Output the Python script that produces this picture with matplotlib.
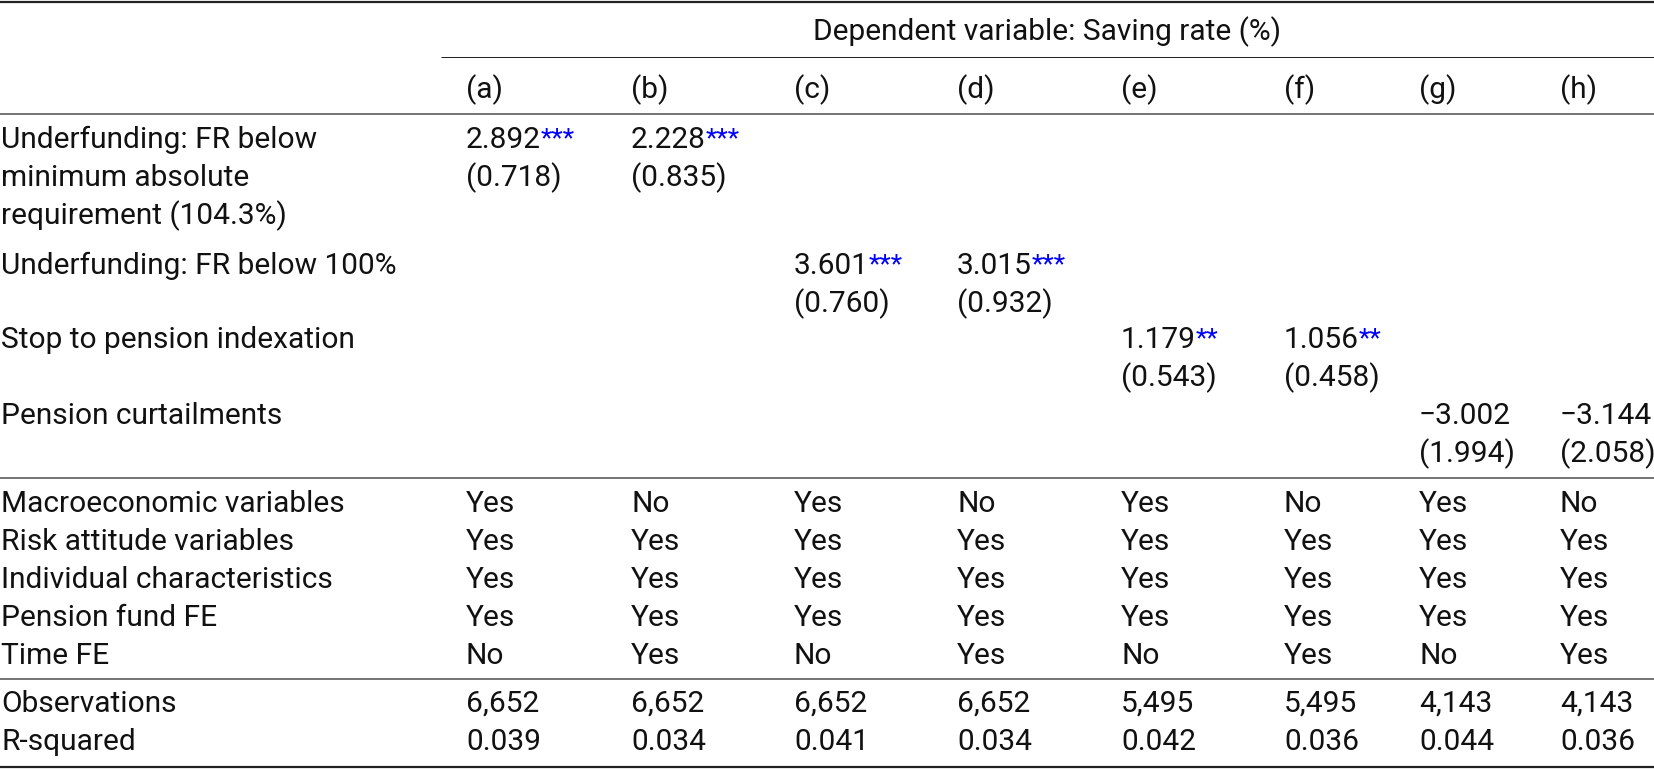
import matplotlib
matplotlib.use("Agg")
import matplotlib.pyplot as plt

plt.rcParams['font.family'] = ['Roboto', 'DejaVu Sans']

# table content
header = "Dependent variable: Saving rate (%)"
col_labels = ["(a)", "(b)", "(c)", "(d)", "(e)", "(f)", "(g)", "(h)"]

var_labels = [
    ["Underfunding: FR below", "minimum absolute", "requirement (104.3%)"],
    ["Underfunding: FR below 100%"],
    ["Stop to pension indexation"],
    ["Pension curtailments"],
]
var_cols = [[0, 1], [2, 3], [4, 5], [6, 7]]
coef_vals = [[2.892, 2.228], [3.601, 3.015], [1.179, 1.056], [-3.002, -3.144]]
se_vals = [[0.718, 0.835], [0.760, 0.932], [0.543, 0.458], [1.994, 2.058]]
stars = [["***", "***"], ["***", "***"], ["**", "**"], ["", ""]]

control_labels = ["Macroeconomic variables", "Risk attitude variables",
                  "Individual characteristics", "Pension fund FE", "Time FE"]
macro = ["Yes", "No", "Yes", "No", "Yes", "No", "Yes", "No"]
risk = ["Yes", "Yes", "Yes", "Yes", "Yes", "Yes", "Yes", "Yes"]
indiv = ["Yes", "Yes", "Yes", "Yes", "Yes", "Yes", "Yes", "Yes"]
fund_fe = ["Yes", "Yes", "Yes", "Yes", "Yes", "Yes", "Yes", "Yes"]
time_fe = ["No", "Yes", "No", "Yes", "No", "Yes", "No", "Yes"]
controls = [macro, risk, indiv, fund_fe, time_fe]

observations = [6652, 6652, 6652, 6652, 5495, 5495, 4143, 4143]
r_squared = [0.039, 0.034, 0.041, 0.034, 0.042, 0.036, 0.044, 0.036]

# layout (pixels)
W, H = 1654, 769
col_x = [466, 631, 794, 957, 1121, 1284, 1419, 1560]
pitch = 38
var_y = [138, 264, 338, 414]
ctrl_y0 = 502
stat_y0 = 702
base = 10  # baseline offset below row centre

txt = '#111111'
fs = 21.5
star_fs = 19

fig = plt.figure(figsize=(W / 100, H / 100), dpi=100)
ax = fig.add_axes([0, 0, 1, 1])
ax.set_xlim(0, W)
ax.set_ylim(H, 0)
ax.axis('off')


def fmt(v):
    return f"{v:.3f}".replace("-", "\u2212")


def put(x, y, s):
    return ax.text(x, y + base, s, ha='left', va='baseline', fontsize=fs,
                   color=txt)


# rules
ax.hlines(2, 0, W, color='#222222', lw=2.2 * 0.72)
ax.hlines(57, 441, W, color='#222222', lw=1.0 * 0.72)
ax.hlines(114, 0, W, color='#777777', lw=2.0 * 0.72)
ax.hlines(478, 0, W, color='#777777', lw=2.0 * 0.72)
ax.hlines(679, 0, W, color='#777777', lw=2.0 * 0.72)
ax.hlines(767, 0, W, color='#222222', lw=2.2 * 0.72)

# header
ax.text((441 + W) / 2, 30 + base, header, ha='center', va='baseline',
        fontsize=fs, color=txt)
for x, lab in zip(col_x, col_labels):
    put(x, 88, lab)

# coefficient block
for i, lines in enumerate(var_labels):
    y0 = var_y[i]
    for k, line in enumerate(lines):
        put(1, y0 + k * pitch, line)
    for j, c in enumerate(var_cols[i]):
        t = put(col_x[c], y0, fmt(coef_vals[i][j]))
        if stars[i][j]:
            ax.annotate(stars[i][j], xy=(1, 1), xycoords=t,
                        xytext=(-0.5, -1), textcoords='offset points',
                        ha='left', va='top', fontsize=star_fs, color='#0000ff')
        put(col_x[c], y0 + pitch, "(" + f"{se_vals[i][j]:.3f}" + ")")

# controls
for r, (lab, vals) in enumerate(zip(control_labels, controls)):
    y = ctrl_y0 + r * pitch
    put(1, y, lab)
    for x, v in zip(col_x, vals):
        put(x, y, v)

# statistics
stat_rows = [("Observations", [f"{n:,}" for n in observations]),
             ("R-squared", [f"{r:.3f}" for r in r_squared])]
for r, (lab, vals) in enumerate(stat_rows):
    y = stat_y0 + r * pitch
    put(1, y, lab)
    for x, v in zip(col_x, vals):
        put(x, y, v)

fig.savefig("out.png", dpi=100)
